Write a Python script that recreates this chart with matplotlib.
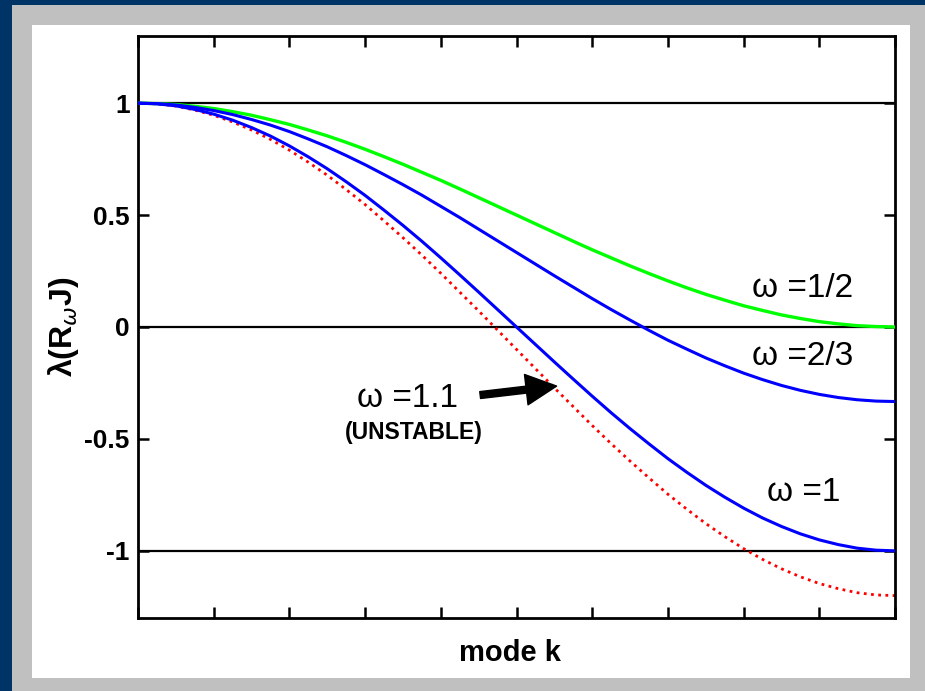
import matplotlib.pyplot as plt
from matplotlib.patches import Rectangle

# eigenvalues of the weighted Jacobi iteration matrix, read per mode k
k = [0, 0.25, 0.5, 0.75, 1, 1.25, 1.5, 1.75, 2, 2.25, 2.5, 2.75, 3, 3.25, 3.5, 3.75,
     4, 4.25, 4.5, 4.75, 5, 5.25, 5.5, 5.75, 6, 6.25, 6.5, 6.75, 7, 7.25, 7.5, 7.75,
     8, 8.25, 8.5, 8.75, 9, 9.25, 9.5, 9.75, 10]
lam_half = [1, 0.998, 0.994, 0.986, 0.976, 0.962, 0.946, 0.926, 0.905, 0.880, 0.854,
            0.825, 0.794, 0.761, 0.727, 0.691, 0.655, 0.617, 0.578, 0.539, 0.5,
            0.461, 0.422, 0.383, 0.345, 0.309, 0.273, 0.239, 0.206, 0.175, 0.146,
            0.120, 0.095, 0.074, 0.054, 0.038, 0.024, 0.014, 0.006, 0.002, 0]
lam_two_thirds = [1, 0.998, 0.992, 0.981, 0.967, 0.949, 0.927, 0.902, 0.873, 0.840, 0.805,
                  0.766, 0.725, 0.681, 0.636, 0.589, 0.539, 0.489, 0.437, 0.385, 0.333,
                  0.281, 0.229, 0.178, 0.127, 0.078, 0.031, -0.015, -0.059, -0.099, -0.138,
                  -0.173, -0.206, -0.235, -0.261, -0.283, -0.301, -0.315, -0.325, -0.331, -0.333]
lam_one = [1, 0.997, 0.988, 0.972, 0.951, 0.924, 0.891, 0.853, 0.809, 0.760, 0.707,
           0.649, 0.588, 0.522, 0.454, 0.383, 0.309, 0.233, 0.156, 0.078, 0,
           -0.078, -0.156, -0.233, -0.309, -0.383, -0.454, -0.522, -0.588, -0.649, -0.707,
           -0.760, -0.809, -0.853, -0.891, -0.924, -0.951, -0.972, -0.988, -0.997, -1]
lam_unstable = [1, 0.997, 0.987, 0.969, 0.946, 0.916, 0.880, 0.838, 0.790, 0.736, 0.678,
                0.614, 0.547, 0.474, 0.399, 0.321, 0.240, 0.156, 0.072, -0.014, -0.1,
                -0.186, -0.272, -0.356, -0.440, -0.521, -0.599, -0.674, -0.747, -0.814, -0.878,
                -0.936, -0.990, -1.038, -1.080, -1.116, -1.146, -1.169, -1.187, -1.197, -1.2]

ref_levels = [1, 0, -1]
ytick_vals = [1, 0.5, 0, -0.5, -1]
ytick_text = ["1", "0.5", "0", "-0.5", "-1"]

plt.rcParams['font.family'] = ['Liberation Sans', 'DejaVu Sans']

W, H = 925, 691
fig = plt.figure(figsize=(W / 100, H / 100), dpi=100, facecolor='#003366')
# grey frame and white panel
fig.patches.append(Rectangle((12 / W, 0), 913 / W, 686 / H, transform=fig.transFigure,
                             facecolor='#c0c0c0', edgecolor='none', zorder=-2))
fig.patches.append(Rectangle((32 / W, 13 / H), 878 / W, 653 / H, transform=fig.transFigure,
                             facecolor='white', edgecolor='none', zorder=-1))

ax = fig.add_axes([138 / W, 73 / H, 757 / W, 582 / H])
ax.set_facecolor('white')

for lvl in ref_levels:
    ax.axhline(lvl, color='black', lw=1.6, zorder=1)

ax.plot(k, lam_half, color='#00ff00', lw=2.4, zorder=3)
ax.plot(k, lam_two_thirds, color='#0000ff', lw=2.2, zorder=3)
ax.plot(k, lam_one, color='#0000ff', lw=2.2, zorder=3)
ax.plot(k, lam_unstable, color='#ff0000', lw=2.0, linestyle=(0, (1, 1.6)), zorder=2)

ax.set_xlim(0, 10)
ax.set_ylim(-1.3, 1.3)
ax.set_xticks(range(0, 11))
ax.set_xticklabels([])
ax.set_yticks(ytick_vals)
ax.set_yticklabels(ytick_text, fontsize=19, fontweight='bold')
ax.tick_params(direction='in', length=8, width=1.8, top=True, right=True, pad=6)
for s in ax.spines.values():
    s.set_linewidth(2)

ax.set_xlabel("mode k", fontsize=21, fontweight='bold')
ax.xaxis.set_label_coords(0.491, -0.036)
ax.text(-0.099, 0.5, r"λ(R$_{\omega}$J)", transform=ax.transAxes, rotation=90,
        fontsize=23, fontweight='bold', ha='center', va='center')

lab = dict(fontsize=24, ha='left', va='center')
ax.text(8.11, 0.17, "\u03c9 =1/2", **lab)
ax.text(8.11, -0.13, "\u03c9 =2/3", **lab)
ax.text(8.31, -0.74, "\u03c9 =1", **lab)
ax.text(2.89, -0.32, "\u03c9 =1.1", **lab)
ax.text(3.65, -0.47, "(UNSTABLE)", fontsize=16.5, fontweight='bold', ha='center', va='center')

ax.annotate("", xy=(5.53, -0.264), xytext=(4.52, -0.304),
            arrowprops=dict(facecolor='black', edgecolor='black', width=5,
                            headwidth=22, headlength=22, shrink=0))

fig.savefig("out.png", dpi=100, facecolor=fig.get_facecolor())
